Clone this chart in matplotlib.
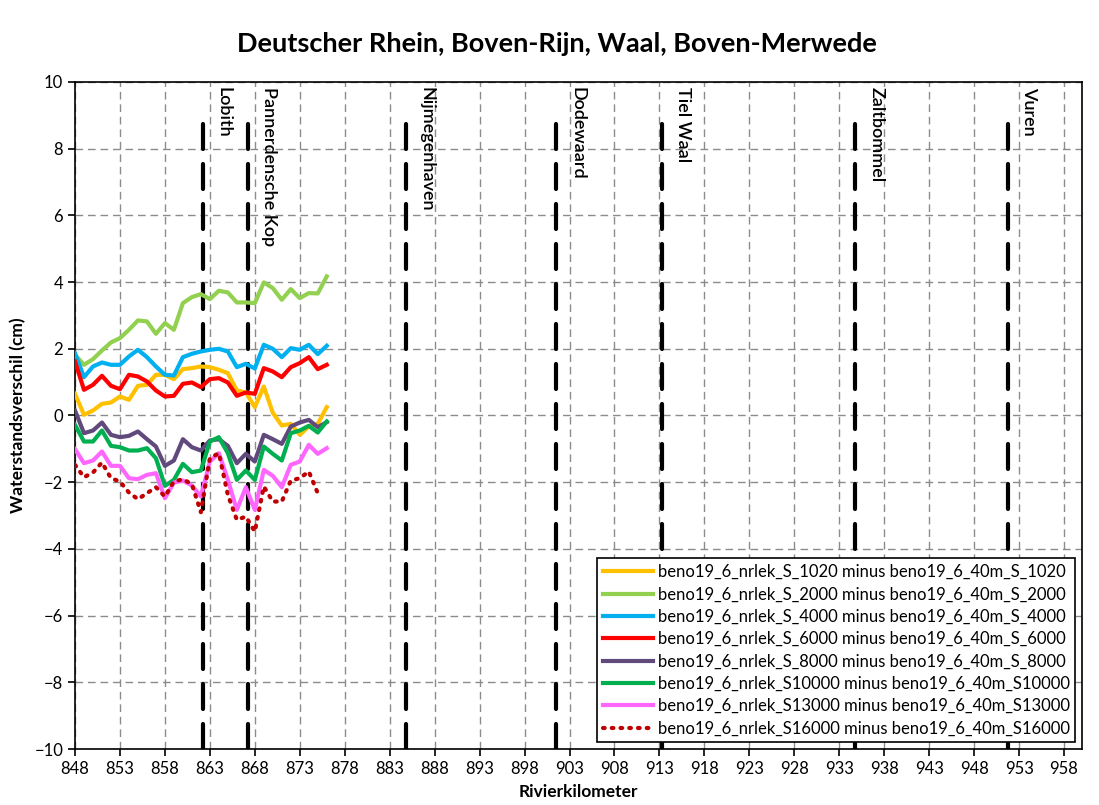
import numpy as np
import matplotlib
matplotlib.use("Agg")
import matplotlib.pyplot as plt

km = list(range(848, 877))

s1020 = [0.65, 0.02, 0.15, 0.35, 0.39, 0.57, 0.47, 0.89, 0.92, 1.22, 1.22, 1.09, 1.39, 1.42,
         1.47, 1.45, 1.37, 1.27, 0.75, 0.69, 0.25, 0.87, 0.08, -0.30, -0.25, -0.58, -0.33, -0.25, 0.25]
s2000 = [1.82, 1.52, 1.69, 1.95, 2.19, 2.32, 2.57, 2.85, 2.82, 2.45, 2.77, 2.57, 3.37, 3.55,
         3.64, 3.49, 3.74, 3.69, 3.39, 3.39, 3.37, 3.99, 3.82, 3.47, 3.79, 3.52, 3.67, 3.66, 4.17]
s4000 = [1.87, 1.15, 1.47, 1.59, 1.52, 1.52, 1.77, 1.97, 1.75, 1.47, 1.22, 1.20, 1.75, 1.85,
         1.92, 1.97, 2.00, 1.92, 1.45, 1.55, 1.41, 2.12, 2.00, 1.75, 2.02, 1.97, 2.12, 1.84, 2.09]
s6000 = [1.62, 0.77, 0.92, 1.19, 0.89, 0.79, 1.22, 1.17, 1.02, 0.75, 0.57, 0.59, 0.95, 0.99,
         0.85, 1.09, 1.12, 0.99, 0.59, 0.69, 0.65, 1.42, 1.32, 1.15, 1.45, 1.57, 1.75, 1.39, 1.52]
s8000 = [0.15, -0.53, -0.45, -0.21, -0.58, -0.65, -0.61, -0.48, -0.71, -0.93, -1.51, -1.35, -0.71, -0.95,
         -1.05, -0.75, -0.71, -0.91, -1.43, -1.15, -1.38, -0.58, -0.71, -0.85, -0.33, -0.21, -0.13, -0.35, -0.20]
s10000 = [-0.28, -0.78, -0.78, -0.45, -0.91, -0.95, -1.05, -1.05, -0.98, -1.28, -2.11, -1.93, -1.45, -1.70,
          -1.65, -0.78, -0.65, -1.13, -1.93, -1.65, -1.93, -0.93, -1.15, -1.35, -0.53, -0.45, -0.31, -0.51, -0.18]
s13000 = [-1.01, -1.43, -1.35, -1.08, -1.51, -1.51, -1.88, -1.91, -1.78, -1.73, -2.48, -2.01, -1.95, -2.10,
          -2.43, -1.38, -1.13, -1.93, -2.83, -2.15, -2.83, -1.63, -1.81, -2.15, -1.48, -1.38, -0.88, -1.15, -0.98]
s16000 = [-1.48, -1.85, -1.71, -1.41, -1.88, -1.98, -2.31, -2.51, -2.33, -2.15, -2.43, -1.98, -1.91, -2.06,
          -2.90, -1.28, -1.13, -2.38, -3.13, -3.03, -3.48, -2.13, -2.58, -2.58, -1.95, -1.88, -1.68, -2.33, np.nan]

series_labels = [
    "beno19_6_nrlek_S_1020 minus beno19_6_40m_S_1020",
    "beno19_6_nrlek_S_2000 minus beno19_6_40m_S_2000",
    "beno19_6_nrlek_S_4000 minus beno19_6_40m_S_4000",
    "beno19_6_nrlek_S_6000 minus beno19_6_40m_S_6000",
    "beno19_6_nrlek_S_8000 minus beno19_6_40m_S_8000",
    "beno19_6_nrlek_S10000 minus beno19_6_40m_S10000",
    "beno19_6_nrlek_S13000 minus beno19_6_40m_S13000",
    "beno19_6_nrlek_S16000 minus beno19_6_40m_S16000",
]
colors = ["#FFC000", "#92D050", "#00B0F0", "#FF0000", "#604A7B", "#00B050", "#FF66FF", "#C00000"]

stations = ["Lobith", "Pannerdensche Kop", "Nijmegenhaven", "Dodewaard", "Tiel Waal", "Zaltbommel", "Vuren"]
station_km = [862.2, 867.2, 884.8, 901.5, 913.3, 934.8, 951.8]

plt.rcParams['font.family'] = ['Lato', 'DejaVu Sans']

fig = plt.figure(figsize=(10.99, 8.05), dpi=100)
ax = fig.add_axes([75/1099, 1-749/805, (1082-75)/1099, (749-82)/805])

ax.set_xlim(848, 960)
ax.set_ylim(-10, 10)
ax.set_xticks(np.arange(848, 960, 5))
ax.set_yticks(np.arange(-10, 11, 2))
ax.grid(True, color="#8c8c8c", linestyle=(0, (5.5, 3.5)), linewidth=1.0)
ax.set_axisbelow(True)

# station lines
for skm, name in zip(station_km, stations):
    ax.plot([skm, skm], [-10, 9], color="black", lw=3.0, linestyle=(0, (6, 3.6)),
            solid_capstyle="butt", dash_capstyle="round", zorder=2)
    ax.text(skm + 1.45, 9.85, name, rotation=270, va="top", ha="left", fontsize=13,
            fontweight="semibold", color="black", zorder=5)

all_series = [s1020, s2000, s4000, s6000, s8000, s10000, s13000, s16000]
for i, (vals, col, lab) in enumerate(zip(all_series, colors, series_labels)):
    if i == 7:
        ax.plot(km, vals, color=col, lw=3.0, linestyle=(0, (0.4, 1.7)), dash_capstyle="round",
                label=lab, zorder=3)
    else:
        ax.plot(km, vals, color=col, lw=3.0, label=lab, zorder=3, solid_joinstyle="round")

for s in ax.spines.values():
    s.set_linewidth(1.2)
ax.tick_params(axis="both", direction="out", length=5, width=1.2, labelsize=12)
ax.set_xlabel("Rivierkilometer", fontsize=12.5, fontweight="bold", labelpad=5)
ax.set_ylabel("Waterstandsverschil (cm)", fontsize=12.5, fontweight="bold", labelpad=6)
fig.suptitle("Deutscher Rhein, Boven-Rijn, Waal, Boven-Merwede", fontsize=19.5, fontweight="bold",
             x=557/1099, y=1-44/805, va="center")

leg = ax.legend(loc="lower right", fontsize=12.0, frameon=True, fancybox=False, framealpha=1,
                edgecolor="black", handlelength=3.0, handletextpad=0.3, labelspacing=0.38,
                borderpad=0.35, borderaxespad=0.4)
leg.get_frame().set_linewidth(1.2)

fig.savefig("out.png", dpi=100)
